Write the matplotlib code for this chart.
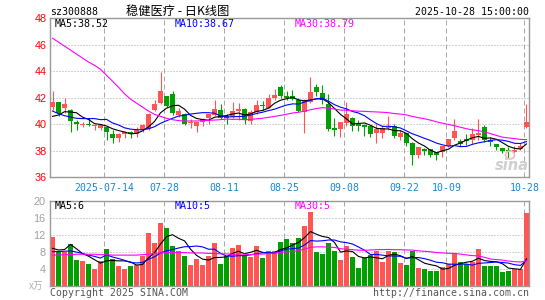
import numpy as np
import pandas as pd
import matplotlib
matplotlib.use('Agg')
import matplotlib.pyplot as plt
from matplotlib.patches import Ellipse

# daily K data, 2025-07-01 .. 2025-10-28 (80 trading days)
opens = [41.3, 41.65, 41.25, 41.1, 40.18, 39.98, 40.05, 39.88, 39.75, 39.8,
         39.3, 38.93, 39.25, 39.43, 39.3, 39.6, 39.68, 41.1, 41.6, 42.1,
         42.3, 40.7, 40.8, 40.1, 39.88, 40.18, 40.5, 40.68, 41.1, 40.6,
         40.56, 41.0, 41.13, 40.26, 40.93, 41.43, 41.25, 42.0, 42.85, 42.13,
         42.1, 41.86, 40.93, 41.7, 42.8, 42.4, 41.5, 39.7, 39.63, 40.1,
         40.5, 40.0, 39.95, 39.86, 39.31, 39.31, 39.73, 39.9, 39.06, 39.31,
         38.6, 37.68, 38.15, 38.1, 37.88, 37.93, 38.35, 39.0, 38.75, 38.88,
         38.8, 39.23, 39.8, 38.8, 38.5, 38.18, 38.05, 37.9, 38.1, 39.8]
closes = [41.7, 40.85, 41.55, 40.25, 40.0, 40.05, 39.98, 39.98, 39.93, 39.43,
          39.0, 39.3, 39.43, 39.25, 39.6, 39.93, 40.8, 41.5, 42.5, 41.35,
          40.85, 40.98, 40.05, 40.15, 40.18, 40.43, 40.75, 41.13, 40.5, 40.5,
          41.0, 41.13, 40.36, 40.93, 41.43, 41.38, 41.98, 42.2, 42.1, 42.0,
          41.9, 41.0, 41.86, 42.4, 42.45, 41.85, 39.65, 39.6, 40.18, 40.78,
          39.9, 39.85, 39.8, 39.3, 39.63, 39.7, 39.81, 39.13, 39.31, 38.6,
          37.65, 38.25, 38.0, 37.7, 37.68, 38.35, 38.88, 39.5, 38.55, 38.75,
          39.25, 39.38, 38.8, 38.68, 38.25, 37.95, 38.0, 38.05, 38.4, 40.2]
highs = [42.55, 41.7, 42.0, 41.15, 40.3, 40.2, 40.45, 40.05, 40.05, 39.85,
         39.55, 39.35, 39.5, 39.5, 39.8, 40.05, 40.85, 41.8, 43.95, 42.15,
         42.5, 41.2, 40.85, 40.4, 40.2, 40.5, 40.8, 41.85, 41.5, 40.8,
         41.7, 41.6, 41.2, 41.1, 41.8, 41.75, 42.3, 42.7, 42.95, 42.5,
         42.6, 42.0, 41.9, 43.6, 43.05, 42.95, 42.3, 40.45, 40.2, 41.65,
         40.55, 40.3, 40.05, 39.9, 40.05, 39.93, 40.6, 40.05, 39.55, 39.35,
         38.65, 38.3, 38.2, 38.15, 37.9, 38.4, 38.9, 40.4, 38.9, 39.3,
         39.7, 40.4, 39.95, 39.05, 38.55, 38.2, 38.25, 38.35, 38.6, 41.55]
lows = [41.1, 40.6, 40.85, 39.45, 39.6, 39.8, 39.85, 39.6, 39.55, 38.8,
        38.6, 38.68, 38.95, 38.93, 39.05, 39.45, 39.6, 41.0, 41.5, 41.3,
        40.7, 40.55, 39.95, 39.7, 39.43, 39.9, 40.05, 40.6, 40.4, 40.05,
        40.5, 40.3, 40.05, 40.05, 40.8, 41.05, 41.2, 41.8, 41.95, 41.8,
        41.8, 40.95, 39.35, 41.6, 42.1, 41.55, 39.5, 39.15, 39.05, 39.9,
        39.5, 39.5, 39.1, 39.05, 38.6, 38.95, 39.55, 39.0, 38.8, 38.35,
        36.95, 37.45, 37.7, 37.55, 37.3, 37.55, 38.3, 38.8, 38.35, 38.45,
        38.55, 38.8, 38.7, 38.35, 38.05, 37.85, 37.45, 37.8, 38.05, 39.7]
volumes = [11.4, 8.2, 8.0, 9.8, 6.0, 5.8, 5.1, 3.9, 5.8, 8.6,
           6.3, 4.6, 3.9, 4.6, 4.9, 7.0, 12.4, 10.0, 14.7, 13.6,
           9.3, 8.2, 7.0, 4.9, 6.3, 4.9, 7.0, 10.0, 5.1, 7.0,
           8.9, 9.6, 7.0, 6.8, 9.3, 6.6, 8.2, 8.2, 10.3, 11.1,
           10.0, 11.2, 14.0, 17.4, 7.9, 7.4, 10.0, 8.2, 6.0, 9.3,
           6.7, 4.2, 6.5, 7.2, 8.2, 5.6, 8.2, 7.9, 5.3, 4.9,
           8.2, 4.2, 3.9, 3.5, 3.5, 4.4, 5.0, 7.5, 5.6, 5.1,
           5.6, 8.6, 4.7, 4.6, 4.7, 3.2, 3.5, 3.9, 3.9, 17.1]

# moving-average values before the window fills
ma5_head = [40.6, 40.7, 40.95, 40.93]
ma10_head = [41.0, 40.8, 40.65, 40.55, 40.45, 40.43, 40.43, 40.43, 40.35]
ma30_head = [46.5, 46.2, 45.9, 45.6, 45.3, 45.0, 44.7, 44.45, 44.15, 43.7,
             43.25, 42.8, 42.3, 41.9, 41.6, 41.3, 41.0, 40.75, 40.6, 40.45,
             40.35, 40.28, 40.25, 40.25, 40.25, 40.27, 40.3, 40.32, 40.35]
vma5_head = [8.8, 8.4, 8.5, 9.7]
vma10_head = [8.0, 8.05, 8.1, 8.2, 7.9, 7.6, 7.2, 6.9, 6.5]
vma30_head = [7.2, 7.2, 7.3, 7.3, 7.4, 7.4, 7.4, 7.4, 7.3, 7.3,
              7.2, 7.2, 7.2, 7.2, 7.2, 7.3, 7.4, 7.6, 7.7, 7.8,
              7.8, 7.8, 7.8, 7.7, 7.7, 7.7, 7.6, 7.6, 7.5]

tick_idx = [9, 19, 29, 39, 49, 59, 66, 79]
tick_lab = ['2025-07-14', '07-28', '08-11', '08-25', '09-08', '09-22', '10-09', '10-28']
price_ticks = [36, 38, 40, 42, 44, 46, 48]
vol_ticks = [4, 8, 12, 16, 20]

RED = '#ff5555'
GREEN = '#00a000'
GRID = '#a8a8a8'
MONO = 'DejaVu Sans Mono'


def ma(values, n, head):
    s = pd.Series(values).rolling(n).mean().to_numpy()
    s[:len(head)] = head
    return s


W, H = 545, 300
fig = plt.figure(figsize=(W / 100, H / 100), dpi=100)


def box(x0, y0, x1, y1):
    return [x0 / W, 1 - y1 / H, (x1 - x0) / W, (y1 - y0) / H]


def ftext(x, y, s, **kw):
    fig.text(x / W, 1 - y / H, s, **kw)


ax = fig.add_axes(box(50.3, 18.3, 529.3, 177.3))
axv = fig.add_axes(box(50.3, 200.7, 529.3, 285.7))

O = np.array(opens)
C = np.array(closes)
x = np.arange(len(C))
cols = np.where(C >= O, RED, GREEN)

for a in (ax, axv):
    a.set_xlim(-0.37, 79.47)
    for t in tick_idx:
        a.axvline(t - 0.37, color=GRID, lw=0.72, ls=(0, (5, 3)), zorder=0)
    for s in a.spines.values():
        s.set_color('#999999')
        s.set_linewidth(1.0)
    a.tick_params(length=0)

# price panel
ax.set_ylim(36, 48)
for lev in price_ticks[1:-1]:
    ax.axhline(lev, color=GRID, lw=0.72, ls=(0, (1, 2)), zorder=0)
ax.vlines(x, lows, highs, colors=cols, lw=0.8, zorder=2)
ax.bar(x, np.maximum(np.abs(C - O), 0.06), bottom=np.minimum(O, C), width=0.8,
       color=cols, linewidth=0, zorder=3)
ax.plot(x, ma(closes, 5, ma5_head), color='black', lw=0.8, zorder=4)
ax.plot(x, ma(closes, 10, ma10_head), color='#0000ff', lw=0.8, zorder=4)
ax.plot(x, ma(closes, 30, ma30_head), color='#ff00ff', lw=0.8, zorder=4)
ax.set_yticks(price_ticks)
ax.set_yticklabels([str(v) for v in price_ticks], color='red', fontsize=7.8,
                   family='Liberation Sans')
ax.tick_params(axis='y', pad=2.6)
ax.set_xticks([t - 0.37 for t in tick_idx])
ax.set_xticklabels(tick_lab, color='#1a86d0', fontsize=7.1, family=MONO)
ax.tick_params(axis='x', pad=4)

# volume panel
V = np.array(volumes)
axv.set_ylim(0, 20)
for lev in vol_ticks[:-1]:
    axv.axhline(lev, color=GRID, lw=0.72, ls=(0, (1, 2)), zorder=0)
axv.bar(x, V, width=0.8, color=cols, linewidth=0, zorder=2)
axv.plot(x, ma(volumes, 5, vma5_head), color='black', lw=0.8, zorder=4)
axv.plot(x, ma(volumes, 10, vma10_head), color='#0000ff', lw=0.8, zorder=4)
axv.plot(x, ma(volumes, 30, vma30_head), color='#ff00ff', lw=0.8, zorder=4)
axv.set_yticks(vol_ticks)
axv.set_yticklabels([str(v) for v in vol_ticks], color='#a0a0a0', fontsize=7.8,
                    family='Liberation Sans')
axv.tick_params(axis='y', pad=3.3)
axv.set_xticks([])

# header and labels
ftext(50, 11.7, 'sz300888', fontsize=7.1, family=MONO, va='center')
ftext(178, 11.7, '稳健医疗 - 日K线图', fontsize=8.8, weight='medium',
      family=['Noto Sans CJK SC', 'DejaVu Sans'], ha='center', va='center')
ftext(529.3, 11.7, '2025-10-28 15:00:00', fontsize=7.15, family=MONO,
      ha='right', va='center')

ftext(54.3, 24, 'MA5:38.52', fontsize=7.2, family=MONO, color='black', va='center')
ftext(174.3, 24, 'MA10:38.67', fontsize=7.2, family=MONO, color='#0000ff', va='center')
ftext(294.3, 24, 'MA30:38.79', fontsize=7.2, family=MONO, color='#ff00ff', va='center')
ftext(54.3, 206, 'MA5:6', fontsize=7.2, family=MONO, color='black', va='center')
ftext(174.3, 206, 'MA10:5', fontsize=7.2, family=MONO, color='#0000ff', va='center')
ftext(294.3, 206, 'MA30:5', fontsize=7.2, family=MONO, color='#ff00ff', va='center')

ftext(43.5, 285.5, 'x万', fontsize=7, family=['Noto Sans CJK SC', 'DejaVu Sans'],
      color='#b0b0b0', ha='right', va='center')
ftext(50, 292.5, 'Copyright 2025 SINA.COM', fontsize=7.1, family=MONO,
      color='#555555', va='center')
ftext(529.3, 292.5, 'http://finance.sina.com.cn', fontsize=7.1, family=MONO,
      color='#555555', ha='right', va='center')

# sina watermark
ftext(512, 166, 'sina', fontsize=10.5, family='DejaVu Sans', weight='bold',
      style='italic', color='#cfcfcf', ha='center', va='center')
fig.patches.append(Ellipse((510 / W, 1 - 155 / H), 9 / W, 8 / H,
                           transform=fig.transFigure, facecolor='none',
                           edgecolor='#f2b8b8', lw=1.2))

fig.savefig('out.png', dpi=100)
